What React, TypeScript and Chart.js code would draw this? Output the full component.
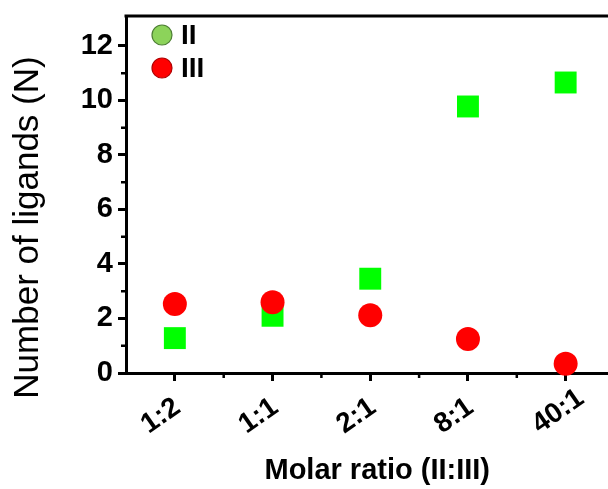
import React, { useEffect, useRef } from 'react';
import { Chart, registerables } from 'chart.js';

Chart.register(...registerables);

// ---- data ----
const categories = ['1:2', '1:1', '2:1', '8:1', '40:1'];
const seriesII = [1.28, 2.1, 3.46, 9.78, 10.66];
const seriesIII = [2.53, 2.6, 2.12, 1.25, 0.34];
const yTickValues = [0, 2, 4, 6, 8, 10, 12];
const yMinorValues = [1, 3, 5, 7, 9, 11];
const xMinorValues = [1.5, 2.5, 3.5, 4.5];
const legendLabels = ['II', 'III'];
const xTitle = 'Molar ratio (II:III)';
const yTitle = 'Number of ligands (N)';

const FONT = '"Liberation Sans", Arial, Helvetica, sans-serif';

const framePlugin = {
  id: 'frameAndLegend',
  afterDraw(chart: any) {
    const { ctx, chartArea: a, scales } = chart;
    ctx.save();
    ctx.strokeStyle = '#000';
    ctx.lineWidth = 3;
    ctx.beginPath();
    ctx.moveTo(a.left - 1.5, a.top);
    ctx.lineTo(a.right + 1.5, a.top);
    ctx.moveTo(a.right, a.top);
    ctx.lineTo(a.right, a.bottom);
    ctx.stroke();

    // minor ticks
    ctx.lineWidth = 2.5;
    ctx.beginPath();
    yMinorValues.forEach((v) => {
      const y = scales.y.getPixelForValue(v);
      ctx.moveTo(a.left, y);
      ctx.lineTo(a.left - 5, y);
    });
    xMinorValues.forEach((v) => {
      const x = scales.x.getPixelForValue(v);
      ctx.moveTo(x, a.bottom);
      ctx.lineTo(x, a.bottom + 5);
    });
    ctx.stroke();

    // rotated category labels (start-anchored, as in the original)
    ctx.fillStyle = '#000';
    ctx.font = `bold 28px ${FONT}`;
    ctx.textAlign = 'left';
    ctx.textBaseline = 'alphabetic';
    categories.forEach((lab, i) => {
      const x = scales.x.getPixelForValue(i + 1);
      ctx.save();
      ctx.translate(x - 26, a.bottom + 61);
      ctx.rotate((-35 * Math.PI) / 180);
      ctx.fillText(lab, 0, 0);
      ctx.restore();
    });

    // axis titles
    ctx.textAlign = 'center';
    ctx.textBaseline = 'middle';
    ctx.font = `bold 29px ${FONT}`;
    ctx.fillText(xTitle, (a.left + a.right) / 2 + 7, 471);
    ctx.save();
    ctx.translate(28, (a.top + a.bottom) / 2 + 33);
    ctx.rotate(-Math.PI / 2);
    ctx.font = `35px ${FONT}`;
    ctx.fillText(yTitle, 0, 0);
    ctx.restore();

    // legend
    const fills = ['#8CD35A', '#FF0000'];
    const strokes = ['#4E7F34', '#B00000'];
    legendLabels.forEach((lab, i) => {
      const cx = a.left + 36;
      const cy = a.top + 19 + i * 33;
      ctx.beginPath();
      ctx.arc(cx, cy, 10, 0, Math.PI * 2);
      ctx.fillStyle = fills[i];
      ctx.fill();
      ctx.lineWidth = 1.2;
      ctx.strokeStyle = strokes[i];
      ctx.stroke();
      ctx.fillStyle = '#000';
      ctx.font = `bold 28px ${FONT}`;
      ctx.textBaseline = 'middle';
      ctx.textAlign = 'left';
      ctx.fillText(lab, cx + 19, cy + 1);
    });
    ctx.restore();
  },
};

export default function App() {
  const ref = useRef<HTMLCanvasElement>(null);

  useEffect(() => {
    document.body.style.margin = '0';
    const chart = new Chart(ref.current as HTMLCanvasElement, {
      type: 'scatter',
      data: {
        datasets: [
          {
            label: legendLabels[0],
            data: categories.map((_, i) => ({ x: i + 1, y: seriesII[i] })),
            pointStyle: 'rect',
            pointRadius: 15.5,
            pointHoverRadius: 15.5,
            backgroundColor: '#00FF00',
            borderColor: '#00FF00',
            borderWidth: 0,
            order: 2,
            clip: false,
          } as any,
          {
            label: legendLabels[1],
            data: categories.map((_, i) => ({ x: i + 1, y: seriesIII[i] })),
            pointStyle: 'circle',
            pointRadius: 12,
            pointHoverRadius: 12,
            backgroundColor: '#FF0000',
            borderColor: '#FF0000',
            borderWidth: 0,
            order: 1,
            clip: false,
          } as any,
        ],
      },
      options: {
        responsive: false,
        animation: false,
        layout: { padding: { top: 16, right: 6, left: 0, bottom: 0 } },
        plugins: {
          legend: { display: false },
          tooltip: { enabled: false },
        },
        scales: {
          x: {
            type: 'linear',
            min: 0.5,
            max: 5.5,
            afterBuildTicks: (s: any) => {
              s.ticks = categories.map((_, i) => ({ value: i + 1 }));
            },
            afterFit: (s: any) => {
              s.height = 116;
              s.paddingLeft = 0;
              s.paddingRight = 0;
            },
            ticks: {
              display: false,
              autoSkip: false,
              callback: (v: any) => categories[Math.round(Number(v)) - 1] ?? '',
            },
            grid: {
              drawOnChartArea: false,
              drawTicks: true,
              tickLength: 8,
              tickWidth: 3,
              tickColor: '#000',
            },
            border: { display: true, color: '#000', width: 3 },
            title: { display: false },
          },
          y: {
            type: 'linear',
            min: 0,
            max: 13.1,
            afterBuildTicks: (s: any) => {
              s.ticks = yTickValues.map((v) => ({ value: v }));
            },
            afterFit: (s: any) => {
              s.width = 126;
              s.paddingTop = 0;
              s.paddingBottom = 0;
            },
            ticks: {
              padding: 5,
              color: '#000',
              font: { family: FONT, size: 29, weight: 'bold' },
            },
            grid: {
              drawOnChartArea: false,
              drawTicks: true,
              tickLength: 8,
              tickWidth: 3,
              tickColor: '#000',
            },
            border: { display: true, color: '#000', width: 3 },
            title: { display: false },
          },
        },
      } as any,
      plugins: [framePlugin],
    });
    return () => chart.destroy();
  }, []);

  return (
    <div style={{ width: 608, height: 489, overflow: 'hidden' }}>
      <canvas ref={ref} width={630} height={489} style={{ display: 'block' }} />
    </div>
  );
}
